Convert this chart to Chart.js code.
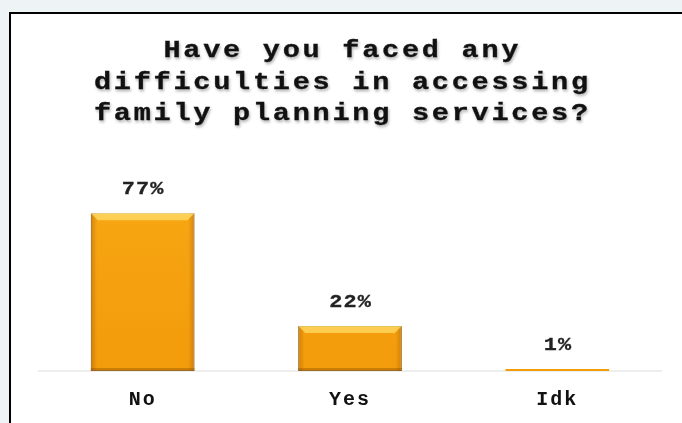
<!DOCTYPE html>
<html>
<head>
<meta charset="utf-8">
<script src="https://cdn.jsdelivr.net/npm/chart.js@4/dist/chart.umd.min.js"></script>
<style>
  html, body { margin: 0; padding: 0; background: #eef4f5; }
  #wrap { position: relative; width: 682px; height: 423px; }
  canvas { display: block; }
</style>
</head>
<body>
<div id="wrap"><canvas id="c" width="682" height="423"></canvas></div>
<script>
const titleLines = ["Have you faced any", "difficulties in accessing", "family planning services?"];
const categories = ["No", "Yes", "Idk"];
const percentValues = [77, 22, 1];
const valueLabels = ["77%", "22%", "1%"];

const FONT = "'Liberation Mono', 'Courier New', monospace";

const framePlugin = {
  id: 'frame',
  beforeDraw(chart) {
    const ctx = chart.ctx;
    ctx.save();
    ctx.fillStyle = '#eef4f5';
    ctx.fillRect(0, 0, chart.width, chart.height);
    ctx.fillStyle = '#ffffff';
    ctx.fillRect(9, 12, chart.width - 9, chart.height - 12);
    ctx.fillStyle = '#000000';
    ctx.fillRect(9, 12, chart.width - 9, 2);
    ctx.fillRect(9, 12, 2, chart.height - 12);
    ctx.restore();
    ctx.letterSpacing = '2px';
  }
};

// draw text centred at cx, widened horizontally by factor k with extra spacing
function wideText(ctx, text, cx, y, spacing, k, stroke) {
  ctx.save();
  ctx.letterSpacing = spacing + 'px';
  const w = (ctx.measureText(text).width - spacing) * k;
  ctx.translate(cx - w / 2, y);
  ctx.scale(k, 1);
  ctx.textAlign = 'left';
  if (stroke) {
    ctx.lineWidth = stroke;
    ctx.strokeStyle = ctx.fillStyle;
    ctx.strokeText(text, 0, 0);
  }
  ctx.fillText(text, 0, 0);
  ctx.restore();
}

const labelPlugin = {
  id: 'labels',
  afterDatasetsDraw(chart) {
    const ctx = chart.ctx;
    const meta = chart.getDatasetMeta(0);
    ctx.save();
    // bevel shading on each bar
    meta.data.forEach((bar) => {
      const left = bar.x - bar.width / 2, right = bar.x + bar.width / 2;
      const top = bar.y, bottom = bar.base;
      if (bottom - top < 6) return;
      const gh = ctx.createLinearGradient(left, 0, right, 0);
      gh.addColorStop(0, 'rgba(140,70,0,0.35)');
      gh.addColorStop(0.06, 'rgba(140,70,0,0)');
      gh.addColorStop(0.94, 'rgba(140,70,0,0)');
      gh.addColorStop(1, 'rgba(140,70,0,0.35)');
      ctx.fillStyle = gh;
      ctx.fillRect(left, top, right - left, bottom - top);
      ctx.fillStyle = 'rgba(255,225,110,0.7)';
      ctx.beginPath();
      ctx.moveTo(left, top);
      ctx.lineTo(right, top);
      ctx.lineTo(right - 7, top + 7);
      ctx.lineTo(left + 7, top + 7);
      ctx.closePath();
      ctx.fill();
      ctx.fillStyle = 'rgba(130,70,0,0.35)';
      ctx.fillRect(left, bottom - 3, right - left, 3);
    });
    ctx.font = 'bold 19px ' + FONT;
    ctx.fillStyle = '#222222';
    ctx.textBaseline = 'middle';
    meta.data.forEach((bar, i) => {
      wideText(ctx, valueLabels[i], bar.x, bar.y - 24, 1, 1.15, 0.3);
    });
    ctx.restore();
  },
  afterDraw(chart) {
    const ctx = chart.ctx;
    ctx.save();
    ctx.font = 'bold 24px ' + FONT;
    ctx.fillStyle = '#111111';
    ctx.textBaseline = 'alphabetic';
    ctx.shadowColor = 'rgba(0,0,0,0.28)';
    ctx.shadowBlur = 3;
    ctx.shadowOffsetX = 1;
    ctx.shadowOffsetY = 2;
    const baselines = [57, 88.5, 120];
    titleLines.forEach((t, i) => wideText(ctx, t, 341, baselines[i], 2.3, 1.19, 0.3));
    ctx.restore();
  }
};

function barFill(context) {
  const chart = context.chart;
  const area = chart.chartArea;
  if (!area) return '#F5A20F';
  const el = context.element;
  const ctx = chart.ctx;
  const top = el && el.y !== undefined ? el.y : area.top;
  const bottom = el && el.base !== undefined ? el.base : area.bottom;
  if (!isFinite(top) || !isFinite(bottom) || bottom - top < 4) return '#F7C368';
  const g = ctx.createLinearGradient(0, top, 0, bottom);
  g.addColorStop(0, '#FFC93A');
  g.addColorStop(Math.min(0.5, 8 / (bottom - top)), '#F9A814');
  g.addColorStop(1, '#F29B0B');
  return g;
}

new Chart(document.getElementById('c'), {
  type: 'bar',
  data: {
    labels: categories,
    datasets: [{
      data: percentValues,
      backgroundColor: barFill,
      borderColor: '#B08030',
      borderWidth: (c) => (c.raw !== undefined && c.raw < 3 ? 0 : 1),
      borderSkipped: false,
      categoryPercentage: 1.0,
      barPercentage: 0.5
    }]
  },
  options: {
    responsive: false,
    animation: false,
    devicePixelRatio: 1,
    layout: { padding: { left: 39, right: 21, top: 166, bottom: 0 } },
    plugins: {
      legend: { display: false },
      title: { display: false },
      tooltip: { enabled: false }
    },
    scales: {
      x: {
        grid: { display: false, drawTicks: false },
        border: { display: true, color: '#eeeeee', width: 2 },
        ticks: {
          color: '#111111',
          padding: 17,
          font: { family: FONT, size: 20, weight: 'bold' }
        },
        afterFit(scale) { scale.height = 52; }
      },
      y: {
        display: false,
        min: 0,
        max: 100
      }
    }
  },
  plugins: [framePlugin, labelPlugin]
});
</script>
</body>
</html>
